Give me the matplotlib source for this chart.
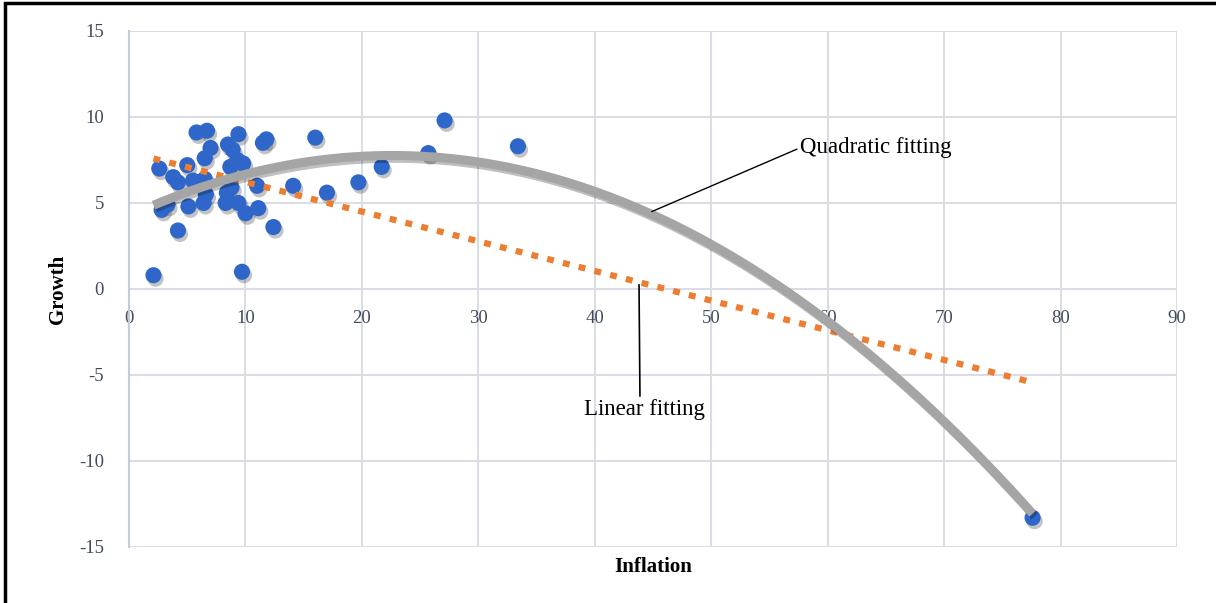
import numpy as np
import matplotlib
matplotlib.use("Agg")
import matplotlib.pyplot as plt
import matplotlib.patheffects as pe
from matplotlib.patches import Rectangle

# Inflation vs growth observations
inflation = [2.1, 2.6, 2.8, 3.3, 3.8, 4.2, 4.2, 5.0, 5.1, 5.5,
             5.8, 6.4, 6.5, 6.5, 6.6, 6.7, 7.0, 8.3, 8.4, 8.5,
             8.7, 8.8, 8.9, 9.3, 9.4, 9.4, 9.7, 9.8, 10.0, 11.0,
             11.1, 11.5, 11.8, 12.4, 14.1, 16.0, 17.0, 19.7, 21.7, 25.7,
             27.1, 33.4, 77.6]
growth = [0.8, 7.0, 4.6, 4.9, 6.5, 6.2, 3.4, 7.2, 4.8, 6.3,
          9.1, 5.0, 6.4, 7.6, 5.5, 9.2, 8.2, 5.0, 5.6, 8.4,
          7.1, 5.9, 8.1, 7.5, 9.0, 5.0, 1.0, 7.3, 4.4, 6.0,
          4.7, 8.5, 8.7, 3.6, 6.0, 8.8, 5.6, 6.2, 7.1, 7.9,
          9.8, 8.3, -13.3]

x_ticks = [0, 10, 20, 30, 40, 50, 60, 70, 80, 90]
y_ticks = [-15, -10, -5, 0, 5, 10, 15]

x = np.array(inflation)
y = np.array(growth)
xs = np.linspace(x.min(), x.max(), 300)
lin = np.polyval(np.polyfit(x, y, 1), xs)
quad = np.polyval(np.polyfit(x, y, 2), xs)

plt.rcParams['font.family'] = ['Liberation Serif', 'DejaVu Serif']
plt.rcParams['axes.unicode_minus'] = False

fig = plt.figure(figsize=(12.16, 6.03), dpi=100)
ax = fig.add_axes([0.1061, 0.0929, 0.8618, 0.8557])

ax.scatter(x, y, s=135, color='#2f66c9', edgecolors='none', zorder=3,
           path_effects=[pe.SimplePatchShadow(offset=(1.5, -2.5), shadow_rgbFace='#555555', alpha=0.35),
                         pe.Normal()])

ax.plot(xs, lin, color='#ed7d31', lw=4.5, linestyle=(0, (1.1, 1.5)),
        dash_capstyle='butt', zorder=4)
ax.plot(xs, quad, color='#a5a5a5', lw=6.5, solid_capstyle='butt', zorder=5,
        path_effects=[pe.SimpleLineShadow(offset=(1.5, -2), alpha=0.25), pe.Normal()])

ax.set_xlim(0, 90)
ax.set_ylim(-15, 15)
ax.set_xticks(x_ticks)
ax.set_yticks(y_ticks)
ax.grid(True, color='#d9dde6', lw=1.4)
ax.set_axisbelow(True)

for s in ['top', 'right']:
    ax.spines[s].set_visible(False)
ax.spines['bottom'].set_position(('data', 0))
ax.spines['bottom'].set_visible(False)
ax.spines['left'].set_color('#c3ccdb')
ax.spines['left'].set_linewidth(1.5)

ax.tick_params(axis='x', length=0, pad=15, labelsize=13.5, labelcolor='#404b5c')
ax.tick_params(axis='y', length=0, pad=18, labelsize=13.5, labelcolor='#404b5c')

ax.set_xlabel('Inflation', fontsize=15, fontweight='bold', va='center')
ax.xaxis.set_label_coords(0.5, -0.039)
ax.set_ylabel('Growth', fontsize=15, fontweight='bold', va='center')
ax.yaxis.set_label_coords(-0.068, 0.5)

# labels for the two trend lines
ax.annotate('Quadratic fitting', xy=(44.9, 4.5), xytext=(57.6, 8.2),
            fontsize=16.5, ha='left', va='center', zorder=6,
            arrowprops=dict(arrowstyle='-', color='black', lw=1, shrinkA=0, shrinkB=0,
                            relpos=(0.0, 0.5)))
ax.annotate('Linear fitting', xy=(43.8, 0.25), xytext=(44.3, -7.0),
            fontsize=16.5, ha='center', va='center', zorder=6,
            arrowprops=dict(arrowstyle='-', color='black', lw=1.2, shrinkA=0, shrinkB=0,
                            relpos=(0.46, 0.82)))

fig.patches.append(Rectangle((5 / 1216, -0.1), 1.2, 1.1 - 3 / 603, transform=fig.transFigure,
                             fill=False, ec='black', lw=2.5, clip_on=False))

fig.savefig('out.png', dpi=100)
